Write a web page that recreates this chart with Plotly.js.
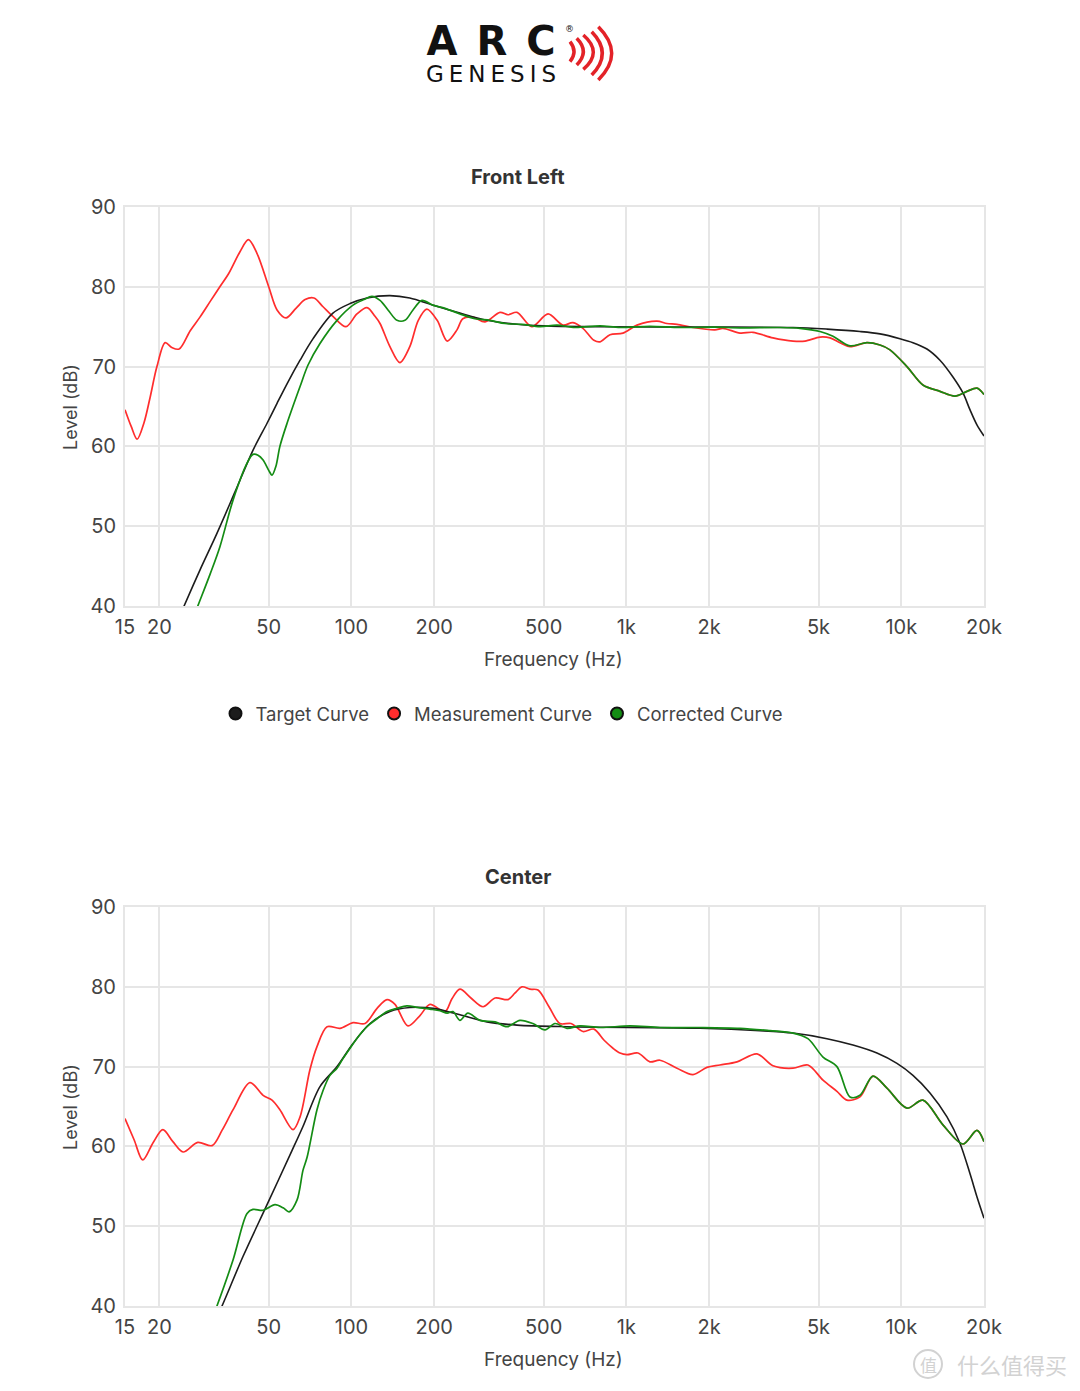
<!DOCTYPE html>
<html><head><meta charset="utf-8">
<script src="https://cdn.plot.ly/plotly-3.0.1.min.js"></script>
<style>html,body{margin:0;padding:0;background:#fff}#chart{width:1080px;height:1391px}</style>
</head><body><div id="chart"></div>
<script>
const tickVals = [15,20,50,100,200,500,1000,2000,5000,10000,20000];
const tickText = ['15','20','50','100','200','500','1k','2k','5k','10k','20k'];
const seriesNames = ['Target Curve','Measurement Curve','Corrected Curve'];
const chartTitles = ['Front Left','Center'];

// ---- Front Left ----
const flTargetFreq = [23.4,24.6,28.1,32.4,37.7,43.8,49.3,53.6,58.8,65.0,72.5,85.6,98.8,113.9,138,163,198,248,311,400,500,802,1853,4038,5367,7077,8368,9893,11030,12400,13830,15420,16770,17780,18850,20000];
const flTarget = [38.3,40.0,44.5,49.1,54.3,59.5,62.9,65.4,68.1,70.8,73.5,76.7,77.9,78.6,78.9,78.6,77.7,76.7,75.8,75.3,75.1,75.0,74.95,74.9,74.7,74.4,74.1,73.5,73.0,72.2,70.8,68.7,66.7,64.6,62.7,61.3];

const flMeasFreq = [15,15.8,16.6,17.6,18.5,19.6,21.0,22.2,23.6,25.9,28.1,30.8,33.2,35.8,39.3,42.2,45.3,50,53.6,57.8,62.8,67.8,73.0,78.8,85.6,95.5,104.7,113.9,121.8,127,138,150,163,175,188,205,223,242,254,277,306,347,371,400,453,519,588,639,695,762,802,872,972,1093,1292,1405,1528,1747,2100,2245,2591,2888,3414,4038,4464,5063,5505,5985,6507,7504,8368,9099,10490,11990,13830,15680,17340,18850,20000];
const flMeas = [64.6,62.5,60.9,63.0,66.1,70.0,73.0,72.4,72.2,74.5,76.2,78.3,80.0,81.7,84.4,85.9,84.2,80.0,77.1,76.1,77.3,78.4,78.6,77.5,76.3,75.0,76.6,77.4,76.3,75.4,72.5,70.5,72.5,75.8,77.2,75.8,73.2,74.6,76.0,76.2,75.6,76.8,76.5,76.8,75.0,76.6,75.2,75.5,74.8,73.3,73.1,74.0,74.2,75.2,75.7,75.4,75.3,74.9,74.6,74.8,74.2,74.3,73.6,73.2,73.2,73.7,73.6,73.0,72.5,73.0,72.7,72.1,70.0,67.7,66.9,66.3,66.9,67.3,66.5];

const flCorrFreq = [26.5,27.6,30.6,33.2,37.1,41.7,43.8,45.7,47.7,50,51.4,53.1,54.9,58.3,65.0,69.5,76.8,88.6,101.3,111,118.7,127,135.8,146.4,156.5,167.4,180.4,198,219,248,281,319,362,417,485,559,650,802,948,1218,1566,2100,2591,3620,4281,5063,5645,6507,7504,8368,9099,10490,11990,13830,15680,17340,18850,20000];
const flCorr = [38.4,40.0,44.0,47.4,53.3,57.9,59.0,58.9,58.3,57.0,56.4,57.5,60.0,62.9,67.5,70.2,72.9,75.8,77.7,78.4,78.8,78.3,77.1,75.8,75.8,77.1,78.3,77.7,77.3,76.6,76.0,75.8,75.4,75.3,75.0,75.2,74.9,75.1,74.9,75.05,74.9,74.95,74.85,74.9,74.8,74.4,73.8,72.6,73.0,72.7,72.1,70.0,67.7,66.9,66.3,66.9,67.3,66.5];

// ---- Center ----
const cTargetFreq = [32.1,33.8,40.3,49.3,60.8,66.6,76.8,88.6,101.3,116.8,138,163,198,248,311,400,608,1853,3060,4038,5367,6672,8158,9648,11030,12720,14670,16350,17780,18850,20000];
const cTarget = [38.4,40.0,46.2,52.7,59.5,62.5,67.5,70.0,72.9,75.4,76.9,77.4,77.3,76.5,75.6,75.2,75.0,74.8,74.5,74.2,73.5,72.7,71.7,70.4,68.9,66.7,63.7,60.4,56.6,53.7,51.0];

const cMeasFreq = [15,16.2,17.4,19.0,20.6,22.4,24.4,27.6,31.1,33.8,37.1,42.7,47.7,51.4,54.9,61.3,65.0,70.6,74.9,81.5,90.8,101.3,112,123.9,134.7,144,160.5,177.5,193,219,232,248,272,301,333,371,393,417,446,477,523,573,629,695,762,830,894,948,1005,1102,1218,1325,1528,1747,1964,2190,2526,2986,3414,4038,4576,5192,5835,6347,7077,7891,8872,10490,11990,14180,16770,18850,20000];
const cMeas = [63.5,60.8,58.3,60.5,62.1,60.6,59.3,60.5,60.1,62.0,64.6,68.0,66.4,65.8,64.6,62.1,63.7,69.6,72.5,75.0,74.8,75.5,75.4,77.3,78.4,77.8,75.1,76.4,77.8,76.9,78.5,79.7,78.6,77.5,78.6,78.4,79.2,80.0,79.7,79.6,77.5,75.4,75.4,74.4,74.7,73.3,72.3,71.7,71.5,71.7,70.6,70.8,69.8,69.0,69.9,70.2,70.6,71.6,70.1,69.8,70.2,68.3,66.9,65.8,66.2,68.8,67.3,64.8,65.8,62.7,60.3,62.0,60.6];

const cCorrFreq = [31.1,32.4,37.1,41.7,43.8,47.7,52.7,56.4,59.3,63.4,66.6,68.9,74.9,78.8,83.5,88.6,93.1,98.8,105.6,113.9,123.9,134.7,146.4,159,175,193,210,223,234,248,265,293,333,368,410,457,506,550,608,678,802,1031,1325,1853,2591,3329,4038,4576,5192,5835,6507,7077,7891,8872,10490,11990,14180,16770,18850,20000];
const cCorr = [38.4,40.0,45.8,51.6,52.1,52.0,52.7,52.3,51.8,53.3,57.0,58.6,64.6,67.0,68.9,69.8,71.0,72.3,73.7,75.0,76.0,76.9,77.3,77.6,77.4,77.2,77.0,76.7,76.9,75.8,76.7,75.8,75.6,75.0,75.8,75.4,74.6,75.4,74.8,75.1,74.9,75.1,74.9,74.9,74.8,74.5,74.2,73.5,71.2,70.0,66.2,66.4,68.8,67.3,64.8,65.8,62.7,60.3,62.0,60.6];

// ---- styling ----
const W = 1080, H = 1391;
const colTarget = '#1c1c1c', colMeas = '#ff2d2d', colCorr = '#148c14';
const FONT = 'Inter, Roboto, "DejaVu Sans", sans-serif';
const px = x => x / W;
const py = y => 1 - y / H;

function line(x, y, color, xa, ya, w) {
  return {x: x, y: y, type: 'scatter', mode: 'lines', xaxis: xa, yaxis: ya,
    line: {color: color, width: w, shape: 'spline', smoothing: 0.9},
    showlegend: false, hoverinfo: 'skip'};
}
const traces = [
  line(flMeasFreq, flMeas, colMeas, 'x', 'y', 1.7),
  line(flTargetFreq, flTarget, colTarget, 'x', 'y', 1.6),
  line(flCorrFreq, flCorr, colCorr, 'x', 'y', 1.7),
  line(cMeasFreq, cMeas, colMeas, 'x2', 'y2', 1.7),
  line(cTargetFreq, cTarget, colTarget, 'x2', 'y2', 1.6),
  line(cCorrFreq, cCorr, colCorr, 'x2', 'y2', 1.7)
];
[colTarget, colMeas, colCorr].forEach((c, i) => {
  traces.push({x: [null], y: [null], type: 'scatter', mode: 'markers', name: seriesNames[i],
    xaxis: 'x', yaxis: 'y', legendrank: i + 1,
    marker: {size: 13, color: c, line: {color: '#111', width: 1.5}}, showlegend: true});
});

function xAxis(anchor) {
  return {type: 'log', range: [Math.log10(15), Math.log10(20000)], domain: [px(125), px(984)], anchor: anchor,
    tickvals: tickVals, ticktext: tickText, tickfont: {family: FONT, size: 20, color: '#444'},
    ticks: 'outside', ticklen: 2, tickcolor: 'rgba(0,0,0,0)',
    showgrid: true, gridcolor: '#e6e6e6', gridwidth: 2, zeroline: false,
    showline: true, mirror: true, linecolor: '#e6e6e6', linewidth: 2, automargin: false, fixedrange: true};
}
function yAxis(anchor, top, bottom) {
  return {range: [40, 90], dtick: 10, domain: [py(bottom), py(top)], anchor: anchor,
    tickfont: {family: FONT, size: 20, color: '#444'},
    ticks: 'outside', ticklen: 3, tickcolor: 'rgba(0,0,0,0)',
    showgrid: true, gridcolor: '#e6e6e6', gridwidth: 2, zeroline: false,
    showline: true, mirror: true, linecolor: '#e6e6e6', linewidth: 2, automargin: false, fixedrange: true};
}

const annotations = [];
function ann(text, x, y, opts) {
  annotations.push(Object.assign({text: text, x: px(x), y: py(y), xref: 'paper', yref: 'paper',
    showarrow: false, xanchor: 'center', yanchor: 'middle'}, opts));
}
ann('<b>' + chartTitles[0] + '</b>', 518, 177, {font: {family: FONT, size: 20, color: '#333'}});
ann('<b>' + chartTitles[1] + '</b>', 518, 877, {font: {family: FONT, size: 20, color: '#333'}});
ann('Frequency (Hz)', 553, 659, {font: {family: FONT, size: 19, color: '#444'}});
ann('Frequency (Hz)', 553, 1359, {font: {family: FONT, size: 19, color: '#444'}});
ann('Level (dB)', 70, 407, {font: {family: FONT, size: 18, color: '#444'}, textangle: -90});
ann('Level (dB)', 70, 1107, {font: {family: FONT, size: 18, color: '#444'}, textangle: -90});

// logo (one text block: ARC over GENESIS)
const logoText = "<b><span style='font-size:40px;letter-spacing:19px'>AR</span><span style='font-size:40px'>C</span></b><br>" +
  "<span style='font-size:23px;letter-spacing:5px'>GENESI</span><span style='font-size:23px'>S</span>";
ann(logoText, 491, 17, {yanchor: 'top', borderpad: 0, font: {family: '"DejaVu Sans", sans-serif', size: 21, color: '#111'}});
ann('®', 569, 29, {font: {family: '"DejaVu Sans", sans-serif', size: 9, color: '#111'}});

// watermark
ann('什么值得买', 1012, 1364, {font: {family: '"Noto Sans CJK SC", sans-serif', size: 22, color: '#d2d2d2'}});
ann('值', 928, 1364, {font: {family: '"Noto Sans CJK SC", sans-serif', size: 17, color: '#d2d2d2'}});

const shapes = [];
const arcs = [[570,41.7,578,51.7,570,61.7],[576.7,38.3,589.9,51.7,576.7,65],[583.3,35,603.3,52.2,583.3,69.3],[591.7,31.7,612.9,53.3,591.7,75],[598.3,26.7,625.1,53.3,598.3,80]];
arcs.forEach(a => {
  shapes.push({type: 'path', xref: 'paper', yref: 'paper',
    path: `M ${px(a[0])},${py(a[1])} Q ${px(a[2])},${py(a[3])} ${px(a[4])},${py(a[5])}`,
    line: {color: '#e32228', width: 3.5}});
});
shapes.push({type: 'circle', xref: 'paper', yref: 'paper', x0: px(914), x1: px(942), y0: py(1378), y1: py(1350), line: {color: '#d2d2d2', width: 2}});

const layout = {
  width: W, height: H, margin: {l: 0, r: 0, t: 0, b: 0},
  paper_bgcolor: '#fff', plot_bgcolor: '#fff',
  xaxis: xAxis('y'), yaxis: yAxis('x', 207, 606),
  xaxis2: xAxis('y2'), yaxis2: yAxis('x2', 907, 1306),
  showlegend: true,
  legend: {orientation: 'h', x: px(502), xanchor: 'center', y: py(714), yanchor: 'middle',
    font: {family: FONT, size: 18.5, color: '#444'}, itemsizing: 'constant', itemwidth: 30,
    bgcolor: 'rgba(0,0,0,0)'},
  annotations: annotations, shapes: shapes
};
Plotly.newPlot('chart', traces, layout, {displayModeBar: false, staticPlot: true});
</script></body></html>
